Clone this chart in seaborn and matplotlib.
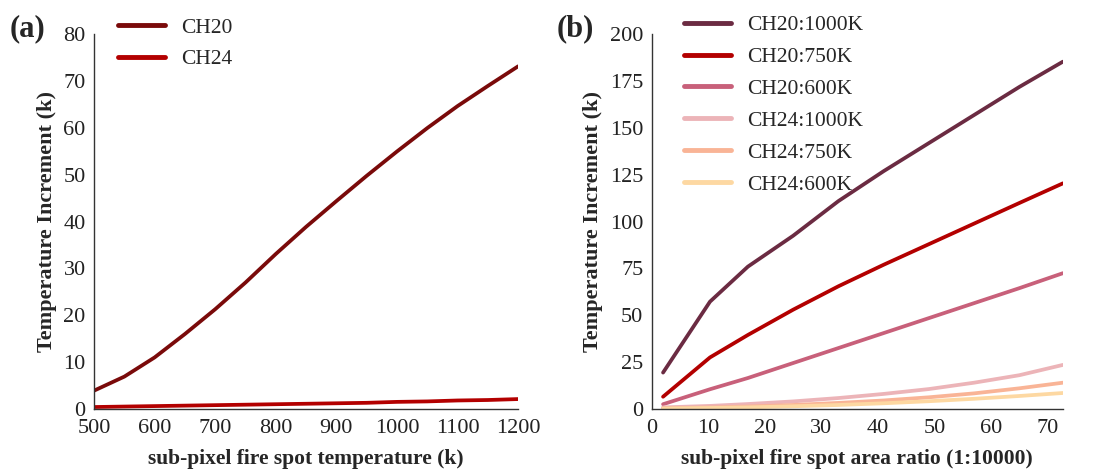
import numpy as np
import pandas as pd
import matplotlib
matplotlib.use("Agg")
import matplotlib.pyplot as plt
import seaborn as sns
from matplotlib.lines import Line2D

# ---- data: panel (a)
temp_a = [500, 550, 600, 650, 700, 750, 800, 850, 900, 950, 1000, 1050, 1100, 1150, 1200]
ch20_a = [3.9, 6.9, 11.0, 16.0, 21.3, 27.0, 33.1, 38.9, 44.4, 49.8, 55.0, 60.0, 64.7, 69.0, 73.2]
ch24_a = [0.4, 0.5, 0.6, 0.7, 0.8, 0.9, 1.0, 1.1, 1.2, 1.3, 1.5, 1.6, 1.8, 1.9, 2.1]
labels_a = ["CH20", "CH24"]
colors_a = ["#7a0a0a", "#b30000"]

# ---- data: panel (b)
ratio_b = [2, 10.3, 17, 25, 33, 41, 49, 57, 65, 72.7]
ch20_1000 = [19.4, 57.3, 76.0, 92.5, 111.0, 127.0, 142.0, 157.0, 172.0, 185.5]
ch20_750 = [6.5, 27.5, 39.5, 53.0, 65.5, 77.0, 88.0, 99.0, 110.0, 120.5]
ch20_600 = [2.5, 10.5, 16.5, 24.5, 32.5, 40.5, 48.5, 56.5, 64.5, 72.5]
ch24_1000 = [0.8, 1.6, 2.6, 4.0, 5.8, 8.0, 10.6, 14.0, 18.0, 23.5]
ch24_750 = [0.3, 0.8, 1.3, 2.1, 3.2, 4.5, 6.2, 8.3, 11.0, 14.0]
ch24_600 = [0.2, 0.5, 0.8, 1.4, 2.1, 3.0, 4.1, 5.4, 6.9, 8.5]
labels_b = ["CH20:1000K", "CH20:750K", "CH20:600K", "CH24:1000K", "CH24:750K", "CH24:600K"]
colors_b = ["#6b2b42", "#b30000", "#c8607a", "#ecb4b8", "#f9b496", "#fdd8a2"]

sns.set_style("ticks")
plt.rcParams["font.family"] = ["Liberation Serif", "DejaVu Serif"]

df_a = pd.DataFrame({
    "x": temp_a * 2,
    "y": ch20_a + ch24_a,
    "series": [labels_a[0]] * len(temp_a) + [labels_a[1]] * len(temp_a),
})
series_b = [ch20_1000, ch20_750, ch20_600, ch24_1000, ch24_750, ch24_600]
df_b = pd.DataFrame({
    "x": ratio_b * len(series_b),
    "y": sum(series_b, []),
    "series": sum([[lab] * len(ratio_b) for lab in labels_b], []),
})

fig = plt.figure(figsize=(11, 4.7), dpi=100)
ax1 = fig.add_axes([0.0855, 0.130, 0.3855, 0.7966])
ax2 = fig.add_axes([0.5925, 0.130, 0.3738, 0.7966])

sns.lineplot(data=df_a, x="x", y="y", hue="series", hue_order=labels_a,
             palette=colors_a, linewidth=2.7, ax=ax1, legend=False)
sns.lineplot(data=df_b, x="x", y="y", hue="series", hue_order=labels_b,
             palette=colors_b, linewidth=2.7, ax=ax2, legend=False)

ax1.set_xlim(500, 1200)
ax1.set_ylim(0, 80)
ax1.set_xticks(range(500, 1201, 100))
ax1.set_yticks(range(0, 81, 10))
ax2.set_xlim(0, 72.7)
ax2.set_ylim(0, 200)
ax2.set_xticks(range(0, 71, 10))
ax2.set_yticks(range(0, 201, 25))

for ax, xl in [(ax1, "sub-pixel fire spot temperature (k)"),
               (ax2, "sub-pixel fire spot area ratio (1:10000)")]:
    sns.despine(ax=ax)
    for s in ("left", "bottom"):
        ax.spines[s].set_linewidth(1.0)
        ax.spines[s].set_color("#333333")
    ax.tick_params(axis="both", length=0, labelsize=16, colors="#222222")
    ax.tick_params(axis="x", pad=7)
    ax.tick_params(axis="y", pad=6)
    ax.set_xlabel(xl, fontsize=15.5, fontweight="bold", labelpad=8)
    ax.set_ylabel("Temperature Increment (k)", fontsize=16, fontweight="bold", labelpad=5)

leg_kw = dict(loc="upper left", bbox_transform=fig.transFigure, frameon=False, fontsize=15.5,
              handlelength=2.2, handletextpad=0.75, labelspacing=0.55,
              borderaxespad=0.0, borderpad=0.2)
h_a = [Line2D([], [], color=c, linewidth=3.5) for c in colors_a]
ax1.legend(h_a, labels_a, bbox_to_anchor=(0.1032, 0.972), **leg_kw)
h_b = [Line2D([], [], color=c, linewidth=3.5) for c in colors_b]
ax2.legend(h_b, labels_b, bbox_to_anchor=(0.618, 0.977), **leg_kw)

fig.text(0.009, 0.97, "(a)", fontsize=22, fontweight="bold", va="top", ha="left")
fig.text(0.506, 0.97, "(b)", fontsize=22, fontweight="bold", va="top", ha="left")

fig.savefig("out.png", dpi=100)
